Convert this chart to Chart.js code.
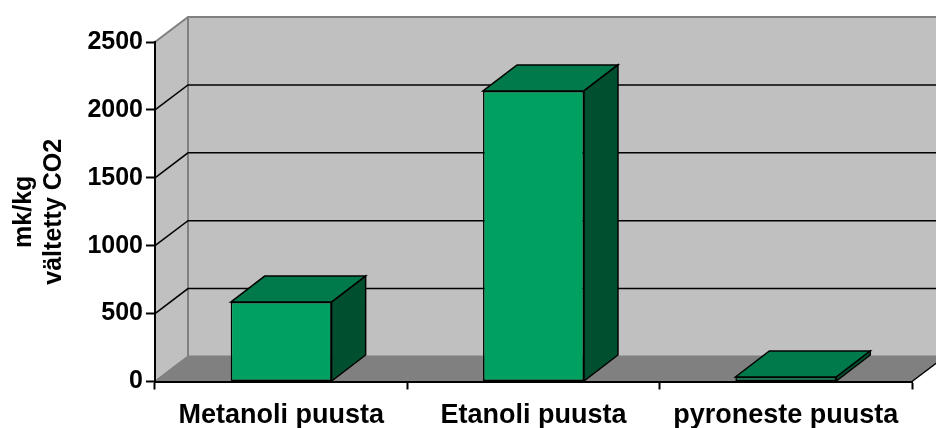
<!DOCTYPE html>
<html>
<head>
<meta charset="utf-8">
<title>mk/kg vältetty CO2</title>
<script src="https://cdn.jsdelivr.net/npm/chart.js@4"></script>
<style>
	body { margin: 0; background: #fff; }
	#wrap { width: 936px; height: 428px; }
</style>
</head>
<body>
<div id="wrap"><canvas id="chart" width="936" height="428"></canvas></div>
<script>
// data
const categories = ["Metanoli puusta", "Etanoli puusta", "pyroneste puusta"];
const values = [585, 2140, 33];
const yTicks = [0, 500, 1000, 1500, 2000, 2500];
const axisTitle = ["mk/kg", "vältetty CO2"];

// depth of the fake 3d box
const wallDX = 33, wallDY = -25;
const barDX = 34, barDY = -26;

function poly(ctx, pts, fill, stroke, lw) {
	ctx.beginPath();
	ctx.moveTo(pts[0][0], pts[0][1]);
	for (let i = 1; i < pts.length; i++) ctx.lineTo(pts[i][0], pts[i][1]);
	ctx.closePath();
	if (fill) { ctx.fillStyle = fill; ctx.fill(); }
	if (stroke) { ctx.strokeStyle = stroke; ctx.lineWidth = lw || 1.5; ctx.stroke(); }
}

const depthPlugin = {
	id: "depth3d",
	beforeDraw(chart) {
		const ctx = chart.ctx;
		const a = chart.chartArea;
		const y = chart.scales.y;
		const L = a.left, R = a.right;
		const T = y.getPixelForValue(yTicks[yTicks.length - 1]);
		const B = y.getPixelForValue(0);
		ctx.save();
		ctx.lineJoin = "miter";
		// back wall
		poly(ctx, [[L + wallDX, T + wallDY], [R + wallDX + 40, T + wallDY], [R + wallDX + 40, B + wallDY], [L + wallDX, B + wallDY]], "#c0c0c0");
		// left wall
		poly(ctx, [[L, T], [L + wallDX, T + wallDY], [L + wallDX, B + wallDY], [L, B]], "#c0c0c0");
		// floor
		poly(ctx, [[L, B], [L + wallDX, B + wallDY], [R + wallDX, B + wallDY], [R, B]], "#808080");
		// gray edges
		ctx.strokeStyle = "#808080";
		ctx.lineWidth = 2;
		ctx.beginPath();
		ctx.moveTo(L, T);
		ctx.lineTo(L + wallDX, T + wallDY);
		ctx.lineTo(R + wallDX + 40, T + wallDY);
		ctx.moveTo(L + wallDX, T + wallDY);
		ctx.lineTo(L + wallDX, B + wallDY);
		ctx.lineTo(R + wallDX + 40, B + wallDY);
		ctx.moveTo(L, B);
		ctx.lineTo(L + wallDX, B + wallDY);
		ctx.stroke();
		// grid lines on the walls
		ctx.strokeStyle = "#000";
		ctx.lineWidth = 1.5;
		yTicks.slice(1, -1).forEach(function (v) {
			const py = y.getPixelForValue(v);
			ctx.beginPath();
			ctx.moveTo(L, py);
			ctx.lineTo(L + wallDX, py + wallDY);
			ctx.lineTo(R + wallDX + 40, py + wallDY);
			ctx.stroke();
		});
		// right floor edge
		ctx.beginPath();
		ctx.moveTo(R, B);
		ctx.lineTo(R + wallDX, B + wallDY);
		ctx.stroke();
		ctx.restore();
	},
	afterDatasetsDraw(chart) {
		const ctx = chart.ctx;
		const meta = chart.getDatasetMeta(0);
		ctx.save();
		ctx.lineJoin = "miter";
		meta.data.forEach(function (bar) {
			const p = bar.getProps(["x", "y", "base", "width"], true);
			const l = p.x - p.width / 2, r = p.x + p.width / 2;
			// top face
			poly(ctx, [[l, p.y], [l + barDX, p.y + barDY], [r + barDX, p.y + barDY], [r, p.y]], "#007a4a", "#000", 1.5);
			// side face
			poly(ctx, [[r, p.y], [r + barDX, p.y + barDY], [r + barDX, p.base + barDY], [r, p.base]], "#00502f", "#000", 1.5);
		});
		ctx.restore();
	}
};

Chart.defaults.font.family = '"Liberation Sans", Arial, sans-serif';
Chart.defaults.color = "#000";

const ctx = document.getElementById("chart").getContext("2d");
const chart = new Chart(ctx, {
	type: "bar",
	data: {
		labels: categories,
		datasets: [{
			data: values,
			backgroundColor: "#00a060",
			borderColor: "#000",
			borderWidth: 1.5,
			borderSkipped: false,
			barPercentage: 0.4,
			categoryPercentage: 1
		}]
	},
	options: {
		responsive: false,
		animation: false,
		devicePixelRatio: 1,
		layout: { padding: { top: 42, right: 24, left: 0, bottom: 0 } },
		plugins: { legend: { display: false }, tooltip: { enabled: false } },
		scales: {
			x: {
				grid: { offset: true, drawOnChartArea: false, tickLength: 8, tickColor: "#000", tickWidth: 2 },
				border: { color: "#000", width: 2 },
				ticks: { font: { size: 27, weight: "bold" }, padding: 10, maxRotation: 0, autoSkip: false },
				afterFit: function (s) { s.height = 46.5; }
			},
			y: {
				min: yTicks[0],
				max: yTicks[yTicks.length - 1],
				afterBuildTicks: function (s) { s.ticks = yTicks.map(function (v) { return { value: v }; }); },
				grid: { drawOnChartArea: false, tickLength: 9, tickColor: "#000", tickWidth: 2 },
				border: { color: "#000", width: 2 },
				ticks: {
					font: { size: 25, weight: "bold" },
					padding: 3,
					callback: function (v) { return String(v); }
				},
				title: { display: true, text: axisTitle, font: { size: 25, weight: "bold" }, padding: { top: 9 } },
				afterFit: function (s) { s.width = 155; }
			}
		}
	},
	plugins: [depthPlugin]
});
</script>
</body>
</html>
